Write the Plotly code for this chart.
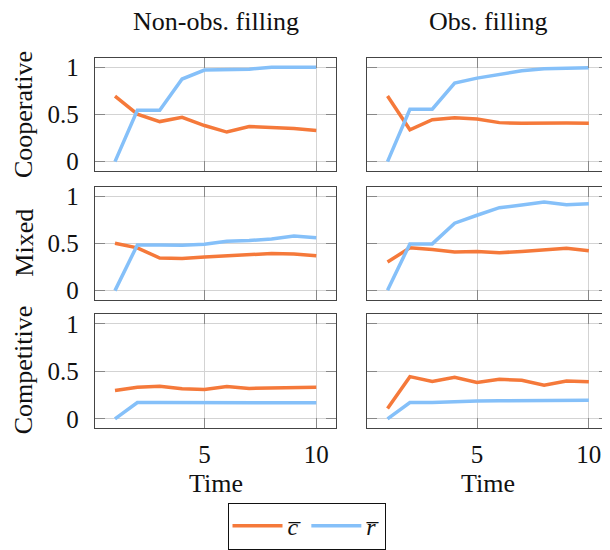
import plotly.graph_objects as go
from plotly.subplots import make_subplots

# ---- data ----
time = [1, 2, 3, 4, 5, 6, 7, 8, 9, 10]
row_labels = ["Cooperative", "Mixed", "Competitive"]
col_titles = ["Non-obs. filling", "Obs. filling"]
x_ticks = [5, 10]
y_ticks = [0, 0.5, 1]
y_tick_text = ["0", "0.5", "1"]

c_coop_nonobs = [0.695, 0.503, 0.424, 0.469, 0.382, 0.313, 0.372, 0.362, 0.350, 0.330]
r_coop_nonobs = [0.0, 0.545, 0.545, 0.875, 0.970, 0.972, 0.980, 1.0, 1.0, 1.0]
c_coop_obs = [0.695, 0.337, 0.444, 0.465, 0.451, 0.413, 0.406, 0.410, 0.408, 0.406]
r_coop_obs = [0.0, 0.555, 0.555, 0.833, 0.885, 0.927, 0.962, 0.983, 0.993, 0.995]

c_mixed_nonobs = [0.502, 0.453, 0.345, 0.341, 0.355, 0.369, 0.383, 0.394, 0.387, 0.369]
r_mixed_nonobs = [0.0, 0.484, 0.484, 0.481, 0.491, 0.523, 0.530, 0.547, 0.578, 0.561]
c_mixed_obs = [0.303, 0.453, 0.436, 0.408, 0.415, 0.401, 0.415, 0.429, 0.449, 0.422]
r_mixed_obs = [0.005, 0.495, 0.495, 0.714, 0.798, 0.878, 0.906, 0.937, 0.909, 0.920]

c_comp_nonobs = [0.300, 0.334, 0.345, 0.317, 0.310, 0.341, 0.321, 0.328, 0.328, 0.334]
r_comp_nonobs = [0.0, 0.172, 0.172, 0.171, 0.172, 0.173, 0.173, 0.172, 0.171, 0.171]
c_comp_obs = [0.110, 0.445, 0.393, 0.438, 0.383, 0.417, 0.407, 0.355, 0.400, 0.390]
r_comp_obs = [0.0, 0.172, 0.172, 0.183, 0.190, 0.192, 0.194, 0.195, 0.196, 0.197]

series_c = [[c_coop_nonobs, c_coop_obs], [c_mixed_nonobs, c_mixed_obs], [c_comp_nonobs, c_comp_obs]]
series_r = [[r_coop_nonobs, r_coop_obs], [r_mixed_nonobs, r_mixed_obs], [r_comp_nonobs, r_comp_obs]]

ORANGE = "#F5793A"
BLUE = "#85C0F9"
FONT = "Liberation Serif, Times New Roman, serif"
OFF = 8                 # default page body margin
W, H = 610 - OFF, 550 - OFF


def px(x):
    return (x - OFF) / W


def py(y):
    return 1 - (y - OFF) / H


fig = make_subplots(rows=3, cols=2)

for i in range(3):
    for j in range(2):
        show = (i == 0 and j == 0)
        fig.add_trace(go.Scatter(x=time, y=series_c[i][j], mode="lines",
                                 line=dict(color=ORANGE, width=3.5),
                                 name="<i>c̅</i>", legendgroup="c", showlegend=show),
                      row=i + 1, col=j + 1)
        fig.add_trace(go.Scatter(x=time, y=series_r[i][j], mode="lines",
                                 line=dict(color=BLUE, width=3.5),
                                 name="<i>r̅</i>", legendgroup="r", showlegend=show),
                      row=i + 1, col=j + 1)

# panel geometry in reference pixels
col_px = [(95, 337), (368, 610)]
row_px = [(54.7, 170), (186, 301.5), (316, 432.3)]

axis_common = dict(showgrid=True, gridcolor="#d3d3d3", gridwidth=1,
                   zeroline=False, showline=True, linecolor="#444444", linewidth=1,
                   mirror="allticks", ticks="inside", ticklen=10, tickcolor="#888888",
                   tickfont=dict(family=FONT, size=25, color="#111111"))

for i in range(3):
    for j in range(2):
        x0, x1 = col_px[j]
        t, b = row_px[i]
        fig.update_xaxes(domain=[max(px(x0), 0), min(px(x1), 1)], range=[0.1, 10.9],
                         tickvals=x_ticks, ticktext=[str(v) for v in x_ticks],
                         showticklabels=(i == 2), ticklabelstandoff=4,
                         row=i + 1, col=j + 1, **axis_common)
        fig.update_yaxes(domain=[py(b), py(t)], range=[-0.1, 1.1],
                         tickvals=y_ticks, ticktext=y_tick_text,
                         showticklabels=(j == 0), ticklabelstandoff=10,
                         row=i + 1, col=j + 1, **axis_common)

annotations = []
for j, title in enumerate(col_titles):
    cx = (col_px[j][0] + col_px[j][1]) / 2
    annotations.append(dict(text=title, x=px(cx), y=py(18), xref="paper", yref="paper",
                            showarrow=False, xanchor="center", yanchor="middle",
                            font=dict(family=FONT, size=26, color="#111111")))
    annotations.append(dict(text="Time", x=px(cx), y=py(488), xref="paper", yref="paper",
                            showarrow=False, xanchor="center", yanchor="middle",
                            font=dict(family=FONT, size=26, color="#111111")))
row_label_x = [23, 25, 23]
row_label_y = [112, 243, 372]
for i, lab in enumerate(row_labels):
    annotations.append(dict(text=lab, x=px(row_label_x[i]), y=py(row_label_y[i]),
                            xref="paper", yref="paper",
                            showarrow=False, xanchor="center", yanchor="middle", textangle=-90,
                            font=dict(family=FONT, size=26, color="#111111")))

fig.update_layout(
    width=W, height=H,
    margin=dict(l=0, r=0, t=0, b=0),
    paper_bgcolor="white", plot_bgcolor="white",
    annotations=annotations,
    showlegend=True,
    legend=dict(orientation="h", x=px(307), xanchor="center", y=py(508), yanchor="top",
                bordercolor="#111111", borderwidth=1, bgcolor="white",
                font=dict(family=FONT, size=24, color="#111111"),
                itemwidth=50, tracegroupgap=0),
)

fig.write_html("out.html")
